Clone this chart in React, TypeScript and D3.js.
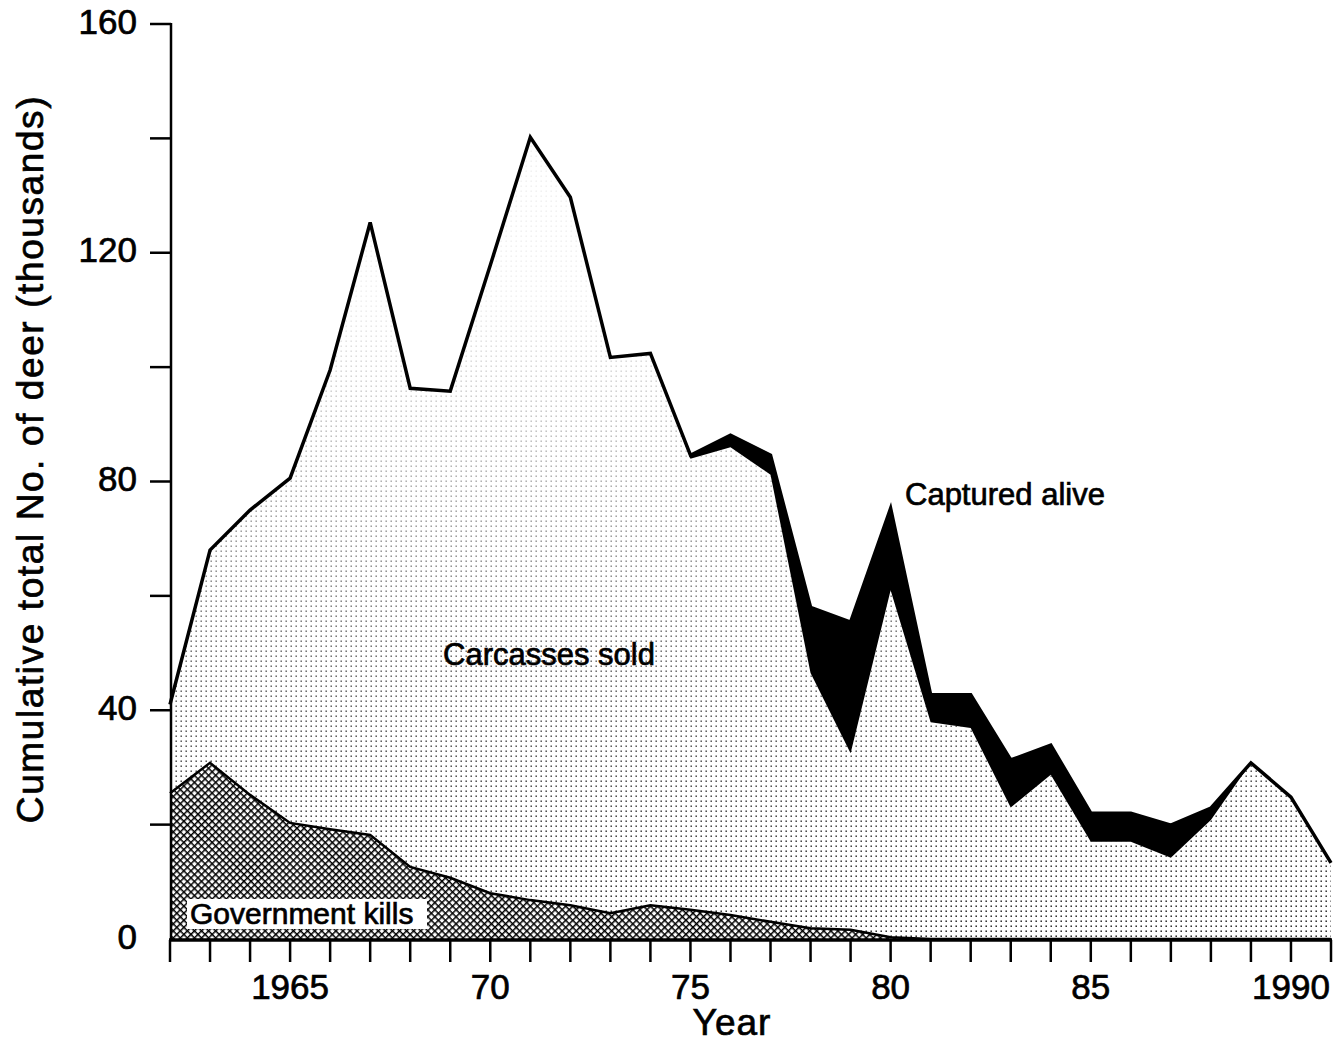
import React from "react";
import * as d3 from "d3";

// ---- Data (thousands of deer) ----
const years = [
  1962, 1963, 1964, 1965, 1966, 1967, 1968, 1969, 1970, 1971,
  1972, 1973, 1974, 1975, 1976, 1977, 1978, 1979, 1980, 1981,
  1982, 1983, 1984, 1985, 1986, 1987, 1988, 1989, 1990, 1991,
];
const governmentKills = [
  25.5, 30.8, 25.2, 20.3, 19.2, 18.2, 12.6, 10.7, 8.0, 6.8,
  5.9, 4.5, 5.9, 5.1, 4.2, 3.0, 1.9, 1.6, 0.3, 0,
  0, 0, 0, 0, 0, 0, 0, 0, 0, 0,
];
const carcassesSold = [
  15.5, 37.2, 49.8, 60.3, 80.3, 107.1, 83.7, 85.1, 109.8, 133.4,
  123.8, 97.2, 96.5, 78.9, 81.8, 78.2, 44.6, 30.9, 60.7, 37.9,
  36.9, 23.0, 28.7, 17.0, 17.0, 14.2, 20.8, 30.8, 24.8, 13.3,
];
const capturedAlive = [
  0, 0, 0, 0, 0, 0, 0, 0, 0, 0,
  0, 0, 0, 0.6, 2.1, 3.4, 11.5, 22.9, 14.3, 4.8,
  5.8, 8.3, 5.2, 5.0, 5.0, 5.7, 2.1, 0, 0, 0,
];

const yTickValues = [20, 40, 60, 80, 100, 120, 140, 160];
const yLabelValues = [0, 40, 80, 120, 160];
const yLabelTexts = ["0", "40", "80", "120", "160"];
const xLabelValues = [1965, 1970, 1975, 1980, 1985, 1990];
const xLabelTexts = ["1965", "70", "75", "80", "85", "1990"];

const FONT = "'Liberation Sans', Arial, Helvetica, sans-serif";
const TXT = { fill: "#000", stroke: "#000", strokeWidth: 0.7 };

export default function App() {
  const W = 1339;
  const H = 1049;
  const x = d3.scaleLinear().domain([1962, 1991]).range([170, 1331]);
  const y = d3.scaleLinear().domain([0, 160]).range([939, 24]);

  const rows = years.map((yr, i) => ({
    year: yr,
    gov: governmentKills[i],
    carc: carcassesSold[i],
    capt: capturedAlive[i],
  }));
  const stack = d3.stack<any>().keys(["gov", "carc", "capt"])(rows);

  const area = d3
    .area<any>()
    .x((d) => x(d.data.year))
    .y0((d) => y(d[0]))
    .y1((d) => y(d[1]));
  const topLine = d3
    .line<any>()
    .x((d) => x(d.data.year))
    .y((d) => y(d[1]));

  return (
    <svg
      width={W}
      height={H}
      style={{ position: "absolute", left: 0, top: 0, background: "#fff" }}
      fontFamily={FONT}
    >
      <defs>
        <pattern id="dots" width="5" height="5" patternUnits="userSpaceOnUse">
          <rect x="0.5" y="0.5" width="1.4" height="1.4" fill="#000" />
        </pattern>
        <linearGradient id="fade" gradientUnits="userSpaceOnUse" x1="0" y1="939" x2="0" y2="300">
          <stop offset="0" stopColor="#fff" />
          <stop offset="0.45" stopColor="#aaa" />
          <stop offset="1" stopColor="#111" />
        </linearGradient>
        <mask id="dotMask" maskUnits="userSpaceOnUse" x="0" y="0" width={W} height={H}>
          <rect x="0" y="0" width={W} height={H} fill="url(#fade)" />
        </mask>
        <pattern
          id="hatch"
          width="5"
          height="5"
          patternUnits="userSpaceOnUse"
          patternTransform="rotate(45)"
        >
          <rect width="5" height="5" fill="#fff" />
          <line x1="0" y1="0" x2="0" y2="5" stroke="#000" strokeWidth="3" />
          <line x1="0" y1="0" x2="5" y2="0" stroke="#000" strokeWidth="3" />
        </pattern>
      </defs>

      {/* Carcasses sold (stipple) */}
      <path d={area(stack[1]) || ""} fill="url(#dots)" mask="url(#dotMask)" />
      {/* Government kills (cross hatch) */}
      <path d={area(stack[0]) || ""} fill="url(#hatch)" />
      <path d={topLine(stack[0]) || ""} fill="none" stroke="#000" strokeWidth={2.5} />
      {/* Captured alive (black) */}
      <path d={area(stack[2]) || ""} fill="#000" />
      {/* Total line */}
      <path
        d={topLine(stack[2]) || ""}
        fill="none"
        stroke="#000"
        strokeWidth={3.5}
        strokeLinejoin="miter"
      />

      {/* Government kills label with white box */}
      <rect x={187} y={899} width={240} height={30} fill="#fff" />
      <text x={190} y={924} fontSize={30} {...TXT}>
        Government kills
      </text>

      <text x={443} y={665} fontSize={31} {...TXT}>
        Carcasses sold
      </text>
      <text x={905} y={505} fontSize={31} {...TXT}>
        Captured alive
      </text>

      {/* Y axis */}
      <line x1={171} x2={171} y1={y(160) - 1} y2={y(0) + 2} stroke="#000" strokeWidth={2.5} />
      {yTickValues.map((v) => (
        <line key={"yt" + v} x1={150} x2={171} y1={y(v)} y2={y(v)} stroke="#000" strokeWidth={2.5} />
      ))}
      {yLabelValues.map((v, i) => (
        <text
          key={"yl" + v}
          x={137}
          y={y(v) - 3}
          fontSize={35}
          textAnchor="end"
          dominantBaseline="central"
          {...TXT}
        >
          {yLabelTexts[i]}
        </text>
      ))}
      <text
        transform={`translate(30, 459) rotate(-90)`}
        fontSize={37}
        letterSpacing={1.6}
        textAnchor="middle"
        dominantBaseline="central"
        {...TXT}
      >
        Cumulative total No. of deer (thousands)
      </text>

      {/* X axis */}
      <line x1={169} x2={1332} y1={940} y2={940} stroke="#000" strokeWidth={3.5} />
      {years.map((v) => (
        <line key={"xt" + v} x1={x(v)} x2={x(v)} y1={940} y2={962} stroke="#000" strokeWidth={2.5} />
      ))}
      {xLabelValues.map((v, i) => (
        <text key={"xl" + v} x={x(v)} y={999} fontSize={35} textAnchor="middle" {...TXT}>
          {xLabelTexts[i]}
        </text>
      ))}
      <text x={732} y={1035} fontSize={37} letterSpacing={1} textAnchor="middle" {...TXT}>
        Year
      </text>
    </svg>
  );
}
